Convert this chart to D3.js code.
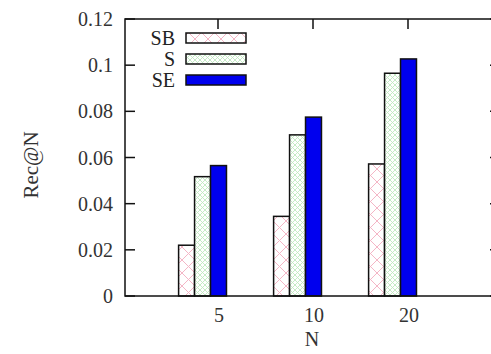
<!DOCTYPE html>
<html>
<head>
<meta charset="utf-8">
<script src="https://cdn.jsdelivr.net/npm/d3@7"></script>
<style>
  html, body { margin: 0; padding: 0; background: #fff; overflow: hidden; }
  text { font-family: "Liberation Serif", "DejaVu Serif", serif; fill: #333; }
</style>
</head>
<body>
<svg id="chart" width="491" height="354"></svg>
<script>
// Recall at N for three methods
const categories = ["5", "10", "20"];
const seriesNames = ["SB", "S", "SE"];
const valuesSB = [0.022, 0.0345, 0.0572];
const valuesS  = [0.0517, 0.0698, 0.0965];
const valuesSE = [0.0565, 0.0775, 0.1027];
const yTicks = [0, 0.02, 0.04, 0.06, 0.08, 0.1, 0.12];

const series = [
  { name: seriesNames[0], values: valuesSB, fill: "url(#hatchSB)" },
  { name: seriesNames[1], values: valuesS,  fill: "url(#hatchS)" },
  { name: seriesNames[2], values: valuesSE, fill: "#0000ee" }
];

const svg = d3.select("#chart");
const plotLeft = 125, plotRight = 500, plotTop = 19, plotBottom = 296;

// hatch patterns
const defs = svg.append("defs");
function crossHatch(id, size, color, width) {
  const p = defs.append("pattern").attr("id", id)
    .attr("patternUnits", "userSpaceOnUse")
    .attr("width", size).attr("height", size);
  p.append("rect").attr("width", size).attr("height", size).attr("fill", "#fff");
  p.append("path")
    .attr("d", `M0,0L${size},${size}M${size},0L0,${size}`)
    .attr("stroke", color).attr("stroke-width", width).attr("fill", "none");
}
crossHatch("hatchSB", 13, "#f4b6c6", 1);
crossHatch("hatchS", 5, "#bfeabf", 0.9);

const x = d3.scaleLinear().domain([0, 2]).range([218, 408]);
const y = d3.scaleLinear().domain([0, 0.12]).range([plotBottom, plotTop]);
const bw = (x(1) - x(0)) * 0.168;
const fmt = d => String(+d.toFixed(2));

// inward tick marks on all four sides
const tickG = svg.append("g").attr("stroke", "#111").attr("stroke-width", 1.5);
yTicks.forEach(t => {
  tickG.append("line").attr("x1", plotLeft).attr("x2", plotLeft + 10).attr("y1", y(t)).attr("y2", y(t));
  tickG.append("line").attr("x1", plotRight - 10).attr("x2", plotRight).attr("y1", y(t)).attr("y2", y(t));
});
categories.forEach((c, i) => {
  tickG.append("line").attr("x1", x(i)).attr("x2", x(i)).attr("y1", plotTop).attr("y2", plotTop + 10);
  tickG.append("line").attr("x1", x(i)).attr("x2", x(i)).attr("y1", plotBottom).attr("y2", plotBottom - 10);
});

// bars
series.forEach((s, j) => {
  svg.append("g").selectAll("rect").data(s.values).join("rect")
    .attr("x", (d, i) => x(i) + (j - 2.5) * bw + 0.5)
    .attr("y", d => y(d))
    .attr("width", bw)
    .attr("height", d => y(0) - y(d))
    .attr("fill", s.fill)
    .attr("stroke", "#111")
    .attr("stroke-width", 1.5);
});

// frame
svg.append("rect").attr("x", plotLeft).attr("y", plotTop)
  .attr("width", plotRight - plotLeft).attr("height", plotBottom - plotTop)
  .attr("fill", "none").attr("stroke", "#111").attr("stroke-width", 1.5);

// y tick labels
svg.append("g").selectAll("text").data(yTicks).join("text")
  .attr("x", plotLeft - 12).attr("y", d => y(d))
  .attr("text-anchor", "end").attr("dominant-baseline", "central")
  .style("font-size", "20px")
  .text(fmt);

// x tick labels
svg.append("g").selectAll("text").data(categories).join("text")
  .attr("x", (d, i) => x(i) + 1).attr("y", 322)
  .attr("text-anchor", "middle")
  .style("font-size", "20px")
  .text(d => d);

// axis titles
svg.append("text").attr("x", 312).attr("y", 346)
  .attr("text-anchor", "middle").style("font-size", "20px").text("N");
svg.append("text")
  .attr("transform", "translate(38,165) rotate(-90)")
  .attr("text-anchor", "middle").style("font-size", "21px").text("Rec@N");

// legend
const legend = svg.append("g");
series.forEach((s, j) => {
  const cy = 38 + j * 21;
  legend.append("text").attr("x", 175).attr("y", cy)
    .attr("text-anchor", "end").attr("dominant-baseline", "central")
    .style("font-size", "20px").style("fill", "#222").text(s.name);
  legend.append("rect").attr("x", 186).attr("y", cy - 5)
    .attr("width", 60).attr("height", 10)
    .attr("fill", s.fill).attr("stroke", "#111").attr("stroke-width", 1.5);
});
</script>
</body>
</html>
